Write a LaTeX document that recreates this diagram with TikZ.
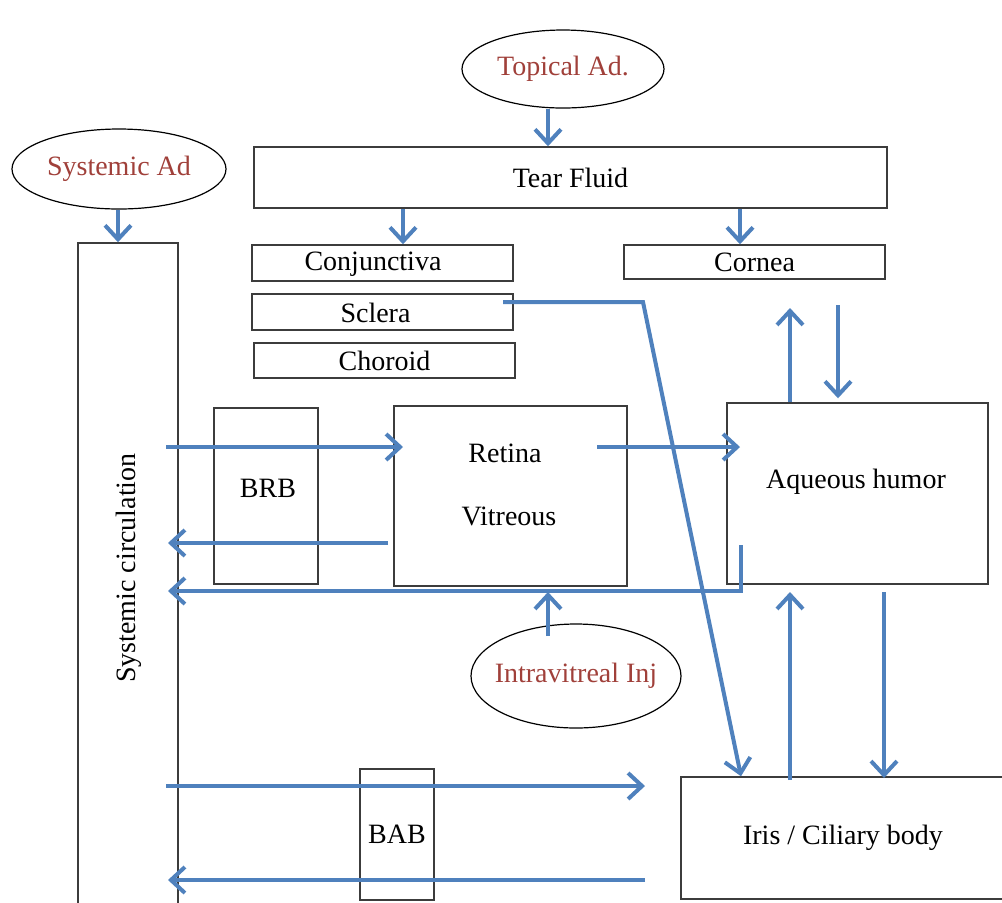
\documentclass[tikz,border=0pt]{standalone}
\usepackage{fontspec}
\setmainfont{Liberation Serif}
\usetikzlibrary{arrows.meta,shapes.geometric}
\definecolor{arrowblue}{HTML}{4F81BD}
\definecolor{labelred}{HTML}{A0403A}
\definecolor{boxgray}{HTML}{3C3C3C}
\begin{document}
\begin{tikzpicture}[x=0.5pt,y=-0.5pt,
  lbl/.style={font=\fontsize{14}{16.8}\selectfont},
  box/.style={draw=boxgray,line width=0.75pt,inner sep=0pt,lbl},
  txt/.style={inner sep=0pt,lbl},
  oval/.style={ellipse,draw=black,line width=0.6pt,inner ysep=0pt,inner xsep=-15pt,text=labelred,lbl},
  link/.style={draw=arrowblue,line width=2pt},
  flow/.style={link,-{Straight Barb[length=7pt,width=13pt]}}]
\useasboundingbox (0,0) rectangle (1002,902);

% ovals
\node[oval,minimum width=101pt,minimum height=39pt] (top) at (563,69) {Topical Ad.};
\node[oval,minimum width=107pt,minimum height=40pt] (sysad) at (119,169) {Systemic Ad};
\node[oval,minimum width=105pt,minimum height=52pt] (inj) at (576,676) {Intravitreal Inj};

% boxes
\node[box,minimum width=316.5pt,minimum height=30.5pt] (tear) at (570.5,177.5) {Tear Fluid};
\node[box,minimum width=130.5pt,minimum height=18pt] (conj) at (382.5,263) {};
\node[txt] (conjT) at (373,264) {Conjunctiva};
\node[box,minimum width=130.5pt,minimum height=18pt] (scl) at (382.5,312) {};
\node[txt] (sclT) at (375.5,313) {Sclera};
\node[box,minimum width=130.5pt,minimum height=17.5pt] (chor) at (384.5,360.5) {Choroid};
\node[box,minimum width=130.5pt,minimum height=17pt] (corn) at (754.5,262) {Cornea};
\node[box,minimum width=50pt,minimum height=338.5pt] (sys) at (128,581.5) {};
\node[txt,rotate=90] (sysT) at (129,568) {Systemic circulation};
\node[box,minimum width=52pt,minimum height=88pt] (brb) at (266,496) {};
\node[txt] (brbT) at (268,488) {BRB};
\node[box,minimum width=116.5pt,minimum height=90pt] (ret) at (510.5,496) {};
\node[txt] (retT) at (505,453) {Retina};
\node[txt] (vitT) at (509,516) {Vitreous};
\node[box,minimum width=130.5pt,minimum height=90.5pt] (aq) at (857.5,493.5) {};
\node[txt] (aqT) at (856,482) {Aqueous humor};
\node[box,minimum width=37pt,minimum height=65.5pt] (bab) at (397,834.5) {BAB};
\node[box,minimum width=164.5pt,minimum height=61pt] (iris) at (845.5,838) {};
\node[txt] (irisT) at (843,838) {Iris / Ciliary body};

% helper coordinates
\coordinate (x548) at (548,0);
\coordinate (x118) at (118,0);
\coordinate (x403) at (403,0);
\coordinate (x740) at (740,0);
\coordinate (x741) at (741,0);
\coordinate (x790) at (790,0);
\coordinate (x838) at (838,0);
\coordinate (x884) at (884,0);

\coordinate (sclOut) at (503,302);
\coordinate (sclBend) at (643,302);
\coordinate (sysOut1) at (166,447);
\coordinate (retIn) at (403,447);
\coordinate (retOut) at (597,447);
\coordinate (aqIn) at (740,447);
\coordinate (retBack) at (388,543);
\coordinate (sysIn1) at (168,543);
\coordinate (aqBack) at (741,545);
\coordinate (aqCorner) at (741,591);
\coordinate (sysIn2) at (168,591);
\coordinate (injOut) at (548,636);
\coordinate (retBottomIn) at (548,592);
\coordinate (aqLow) at (884,592);
\coordinate (irisIn) at (884,778);
\coordinate (irisOut) at (790,780);
\coordinate (aqLowIn) at (790,592);
\coordinate (sysOut2) at (166,786);
\coordinate (irisLeftIn) at (645,786);
\coordinate (irisLeftOut) at (645,880);
\coordinate (sysIn3) at (168,880);
\coordinate (cornUp) at (790,308);
\coordinate (cornDown) at (838,305);

% connectors
\draw[flow] (x548 |- top.south) -- (x548 |- tear.north);
\draw[flow] (x118 |- sysad.south) -- (x118 |- sys.north);
\draw[flow] (x403 |- tear.south) -- (x403 |- conj.north);
\draw[flow] (x740 |- tear.south) -- (x740 |- corn.north);
\draw[flow] (x790 |- aq.north) -- (cornUp);
\draw[flow] (cornDown) -- ([yshift=2pt]x838 |- aq.north);
\draw[flow] (sclOut) -- (sclBend) -- (x741 |- iris.north);
\draw[flow] (sysOut1) -- (retIn);
\draw[flow] (retOut) -- (aqIn);
\draw[flow] (retBack) -- (sysIn1);
\draw[flow] (aqBack) -- (aqCorner) -- (sysIn2);
\draw[flow] (injOut) -- (retBottomIn);
\draw[flow] (aqLow) -- (irisIn);
\draw[flow] (irisOut) -- (aqLowIn);
\draw[flow] (sysOut2) -- (irisLeftIn);
\draw[flow] (irisLeftOut) -- (sysIn3);
\end{tikzpicture}
\end{document}
